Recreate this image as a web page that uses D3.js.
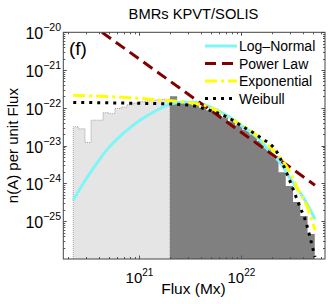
<!DOCTYPE html>
<html><head><meta charset="utf-8">
<script src="https://cdn.jsdelivr.net/npm/d3@7"></script>
<style>body{margin:0;background:#fff}svg{display:block;font-family:"Liberation Sans",Arial,Helvetica,sans-serif}</style>
</head><body><svg id="c" width="332" height="304"></svg>
<script>
// ---------- data ----------
const title = "BMRs KPVT/SOLIS";
const panelLabel = "(f)";
const xLabel = "Flux (Mx)";
const yLabel = "n(A) per unit Flux";
const xDomain = [1.79e20, 6.6e22];
const yDomain = [1e-26, 1e-20];
const seriesNames = ["Log\u2013Normal", "Power Law", "Exponential", "Weibull"];

// histogram below fit threshold (light)
const lowBinEdges = [2.24e20, 2.51e20, 2.92e20, 3.35e20, 3.83e20, 4.39e20, 5.02e20, 5.75e20, 6.59e20,
  7.53e20, 8.63e20, 9.89e20, 1.13e21, 1.30e21, 1.49e21, 1.70e21, 1.99e21];
const lowBinValues = [3.18e-23, 2.78e-23, 1.21e-23, 4.72e-23, 4.72e-23, 7.45e-23, 7.01e-23, 9.62e-23,
  1.04e-22, 1.21e-22, 1.33e-22, 1.46e-22, 1.55e-22, 1.60e-22, 1.64e-22, 1.69e-22];
// histogram above threshold (dark)
const highBinEdges = [1.99e21, 2.34e21, 2.76e21, 3.25e21, 3.83e21, 4.51e21, 5.31e21, 6.25e21, 7.36e21,
  8.67e21, 1.02e22, 1.20e22, 1.42e22, 1.67e22, 1.96e22, 2.31e22, 2.72e22, 3.21e22, 3.78e22, 4.45e22, 5.24e22];
const highBinValues = [2.03e-22, 1.46e-22, 1.29e-22, 1.18e-22, 1.01e-22, 8.67e-23, 7.23e-23, 5.66e-23,
  4.45e-23, 3.48e-23, 2.65e-23, 1.97e-23, 1.32e-23, 8.59e-24, 5.27e-24, 1.99e-24, 8.49e-25, 3.21e-25,
  1.37e-25, 4.57e-26];

const logNormalFlux = [2.24e20, 2.81e20, 3.52e20, 4.76e20, 6.93e20, 1.01e21, 1.48e21, 1.99e21, 2.69e21,
  3.58e21, 4.91e21, 7.16e21, 1.04e22, 1.52e22, 1.90e22, 2.38e22, 2.99e22, 4.03e22, 5.26e22];
const logNormalValues = [3.62e-25, 1.00e-24, 2.49e-24, 7.60e-24, 2.10e-23, 4.72e-23, 8.67e-23, 1.25e-22,
  1.44e-22, 1.41e-22, 1.06e-22, 6.40e-23, 3.14e-23, 1.40e-23, 6.85e-24, 3.66e-24, 1.38e-24, 4.35e-25, 1.14e-25];

const powerLawFlux = [4.29e20, 5.26e22];
const powerLawValues = [1.0e-20, 9.0e-25];

const exponentialFlux = [2.24e20, 4.10e20, 8.07e20, 1.59e21, 3.13e21, 4.91e21, 7.16e21, 1.21e22, 1.90e22,
  2.38e22, 2.99e22, 3.75e22, 4.39e22, 5.26e22];
const exponentialValues = [2.16e-22, 2.03e-22, 1.86e-22, 1.60e-22, 1.37e-22, 1.04e-22, 5.77e-23, 2.56e-23,
  9.29e-24, 5.06e-24, 1.99e-24, 5.55e-25, 2.51e-25, 5.83e-26];

const weibullFlux = [2.24e20, 4.10e20, 8.07e20, 1.59e21, 3.13e21, 4.20e21, 7.16e21, 1.04e22, 1.52e22,
  2.23e22, 2.99e22, 3.75e22, 4.29e22, 4.70e22, 5.26e22];
const weibullValues = [1.39e-22, 1.37e-22, 1.33e-22, 1.29e-22, 1.17e-22, 9.79e-23, 5.77e-23, 3.14e-23,
  1.67e-23, 6.73e-24, 1.15e-24, 2.37e-25, 9.51e-26, 3.81e-26, 1.13e-26];

// ---------- layout ----------
const L = 63.3, R = 325, T = 32.3, B = 259;
const svg = d3.select("#c");
const x = d3.scaleLog().domain(xDomain).range([L, R]);
const y = d3.scaleLog().domain(yDomain).range([B, T]);

svg.append("defs").append("clipPath").attr("id", "clip")
  .append("rect").attr("x", L).attr("y", T).attr("width", R - L).attr("height", B - T);
const plot = svg.append("g").attr("clip-path", "url(#clip)");

function stairs(edges, vals) {
  const p = d3.path();
  p.moveTo(x(edges[0]), B);
  vals.forEach((v, i) => { p.lineTo(x(edges[i]), y(v)); p.lineTo(x(edges[i + 1]), y(v)); });
  p.lineTo(x(edges[edges.length - 1]), B);
  return p.toString();
}
plot.append("path").attr("d", stairs(lowBinEdges, lowBinValues))
  .attr("fill", "#e5e5e5").attr("stroke", "#a0a0a0").attr("stroke-width", 1).attr("stroke-dasharray", "1,1");
plot.append("path").attr("d", stairs(highBinEdges, highBinValues))
  .attr("fill", "#808080").attr("stroke", "none");

const line = d3.line().curve(d3.curveMonotoneX);
function curve(fx, fv) { return line(fx.map((f, i) => [x(f), y(fv[i])])); }

const styles = [
  { color: "#7ff5f5", dash: null, width: 3 },
  { color: "#800000", dash: "11,6", width: 3 },
  { color: "#ffff00", dash: "12,4,3,4", width: 3 },
  { color: "#000000", dash: "3,5", width: 3 }
];
const curves = [
  [logNormalFlux, logNormalValues],
  [powerLawFlux, powerLawValues],
  [exponentialFlux, exponentialValues],
  [weibullFlux, weibullValues]
];
curves.forEach((c, i) => {
  const s = styles[i];
  const p = plot.append("path").attr("d", curve(c[0], c[1])).attr("fill", "none")
    .attr("stroke", s.color).attr("stroke-width", s.width);
  if (s.dash) p.attr("stroke-dasharray", s.dash);
});

// ---------- axes ----------
const ax = svg.append("g").attr("stroke", "#555").attr("stroke-width", 1);
const xt = x.ticks().filter(t => t >= xDomain[0] && t <= xDomain[1]);
const yt = y.ticks();
const isMajor = t => Math.abs(Math.log10(t) - Math.round(Math.log10(t))) < 1e-6;
xt.forEach(t => {
  const len = isMajor(t) ? 3.5 : 2;
  const px = Math.round(x(t)) + 0.5;
  ax.append("line").attr("x1", px).attr("x2", px).attr("y1", B).attr("y2", B - len);
  ax.append("line").attr("x1", px).attr("x2", px).attr("y1", T).attr("y2", T + len);
});
yt.forEach(t => {
  const len = isMajor(t) ? 3.5 : 2;
  const py = Math.round(y(t)) + 0.5;
  ax.append("line").attr("x1", L).attr("x2", L + len).attr("y1", py).attr("y2", py);
  ax.append("line").attr("x1", R).attr("x2", R - len).attr("y1", py).attr("y2", py);
});
svg.append("rect").attr("x", L).attr("y", T).attr("width", R - L).attr("height", B - T)
  .attr("fill", "none").attr("stroke", "#444").attr("stroke-width", 1);

// tick labels
xt.filter(isMajor).forEach(t => {
  const e = Math.round(Math.log10(t));
  const tx = svg.append("text").attr("x", x(t)).attr("y", 283).attr("text-anchor", "middle")
    .attr("font-size", 15).attr("fill", "#000");
  tx.append("tspan").text("10");
  tx.append("tspan").attr("dy", -7).attr("font-size", 10).text(e);
});
yt.filter(isMajor).forEach(t => {
  const e = Math.round(Math.log10(t));
  const tx = svg.append("text").attr("x", 61).attr("y", y(t) + 7).attr("text-anchor", "end")
    .attr("font-size", 16).attr("fill", "#000");
  tx.append("tspan").text("10");
  tx.append("tspan").attr("dy", -8).attr("font-size", 10.5).text("\u2212" + Math.abs(e));
});

// labels
svg.append("text").attr("x", 193.5).attr("y", 19).attr("text-anchor", "middle")
  .attr("font-size", 14.7).text(title);
svg.append("text").attr("x", 193.5).attr("y", 294).attr("text-anchor", "middle")
  .attr("font-size", 15.5).text(xLabel);
svg.append("text").attr("transform", `translate(18,${(T + B) / 2}) rotate(-90)`)
  .attr("text-anchor", "middle").attr("font-size", 15).text(yLabel);
svg.append("text").attr("x", 69).attr("y", 55).attr("font-size", 19).text(panelLabel);

// legend
const lg = svg.append("g");
const rowY = [46, 63.5, 81, 98.5];
seriesNames.forEach((n, i) => {
  const s = styles[i];
  const l = lg.append("line").attr("x1", 205).attr("x2", 237).attr("y1", rowY[i]).attr("y2", rowY[i])
    .attr("stroke", s.color).attr("stroke-width", s.width);
  if (s.dash) l.attr("stroke-dasharray", s.dash);
  lg.append("text").attr("x", 239).attr("y", rowY[i] + 5).attr("font-size", 14).text(n);
});
</script></body></html>
